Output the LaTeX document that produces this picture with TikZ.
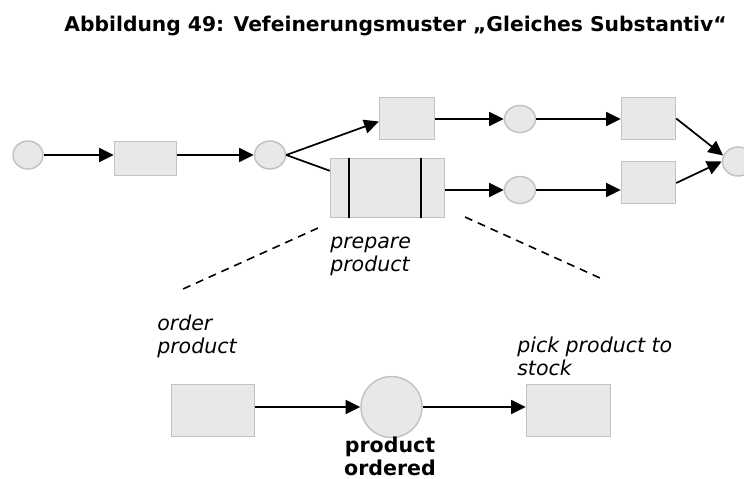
\documentclass[tikz,border=0pt]{standalone}
\usepackage{fontspec}
\setmainfont{DejaVu Sans}
\usetikzlibrary{arrows.meta,calc,shapes.geometric}
\newdimen\px
\px=0.75pt
\definecolor{boxfill}{HTML}{E8E8E8}
\definecolor{boxline}{HTML}{C2C2C2}
\begin{document}
\begin{tikzpicture}[x=0.75pt,y=-0.75pt,
  trans/.style={rectangle, draw=boxline, fill=boxfill, line width=1.1pt, inner sep=0},
  place/.style={ellipse, draw=boxline, fill=boxfill, line width=1.1pt, inner sep=0},
  flow/.style={line width=1.3pt, -{Triangle[length=11pt,width=10.5pt]}},
  plain/.style={line width=1.3pt},
  zoomline/.style={line width=1.2pt, dash pattern=on 6pt off 4.5pt},
  lbl/.style={font=\fontsize{15.4}{17.25}\selectfont\itshape, align=left, inner sep=0},
  blbl/.style={font=\fontsize{15.4}{17}\selectfont\bfseries, align=center, inner sep=0},
  ttl/.style={font=\fontsize{15.2}{18}\selectfont\bfseries, inner sep=0}]
\useasboundingbox (0,0) rectangle (744,479);
\clip (0,0) rectangle (744,479);

\node[ttl, anchor=base] (title) at (395.5,31) {Abbildung 49: Vefeinerungsmuster „Gleiches Substantiv“};

% upper net
\node[place, minimum width=30\px, minimum height=28\px] (c1) at (28,155) {};
\node[trans, minimum width=62\px, minimum height=34\px] (r1) at (145.5,158.5) {};
\node[place, minimum width=31\px, minimum height=28\px] (c2) at (270,155) {};
\node[trans, minimum width=55\px, minimum height=42\px] (r2) at (407,118.5) {};
\node[trans, minimum width=114\px, minimum height=59\px] (big) at (387.5,188) {};
\node[place, minimum width=31\px, minimum height=27\px] (c3) at (520,119) {};
\node[place, minimum width=31\px, minimum height=27\px] (c4) at (520,190) {};
\node[trans, minimum width=54\px, minimum height=42\px] (r3) at (648.5,118.5) {};
\node[trans, minimum width=54\px, minimum height=42\px] (r4) at (648.5,182.5) {};
\node[place, minimum width=31\px, minimum height=29\px] (c5) at (738,161.5) {};

\draw[plain] ($(big.north west)+(19,0)$) -- ($(big.south west)+(19,0)$);
\draw[plain] ($(big.north east)+(-24,0)$) -- ($(big.south east)+(-24,0)$);

\draw[flow] (c1.east) -- (c1 -| r1.west);
\draw[flow] (c2 -| r1.east) -- (c2.west);
\draw[flow] (c2.east) -- ($(r2.west)+(0,3)$);
\draw[plain] (c2.east) -- ($(big.north west)+(0,13)$);
\draw[flow] (r2.east |- c3) -- (c3.west);
\draw[flow] (c3.east) -- (c3 -| r3.west);
\draw[flow] (big.east |- c4) -- (c4.west);
\draw[flow] (c4.east) -- (c4 -| r4.west);
\draw[flow] (r3.east) -- (c5.158);
\draw[flow] ($(r4.east)+(0,0.5)$) -- (c5.180);

% zoom lines
\coordinate (zl1) at (318,228);
\coordinate (zl2) at (183,289);
\coordinate (zr1) at (465,217);
\coordinate (zr2) at (600,278);
\draw[zoomline] (zl1) -- (zl2);
\draw[zoomline] (zr1) -- (zr2);

\node[lbl, anchor=base west] (lprep) at (330,271) {prepare\\product};

% lower net
\node[trans, minimum width=83\px, minimum height=52\px] (r5) at (213,410.5) {};
\node[place, minimum width=61\px, minimum height=61\px] (c6) at (391.5,407) {};
\node[trans, minimum width=84\px, minimum height=52\px] (r6) at (568.5,410.5) {};

\draw[flow] (c6 -| r5.east) -- (c6.west);
\draw[flow] (c6.east) -- (c6 -| r6.west);

\node[lbl, anchor=base west] (lorder) at (157,353) {order\\product};
\node[lbl, anchor=base west] (lpick) at (517,375) {pick product to\\stock};
\node[blbl, anchor=base] (lordered) at (390,475) {product\\ordered};
\end{tikzpicture}
\end{document}
